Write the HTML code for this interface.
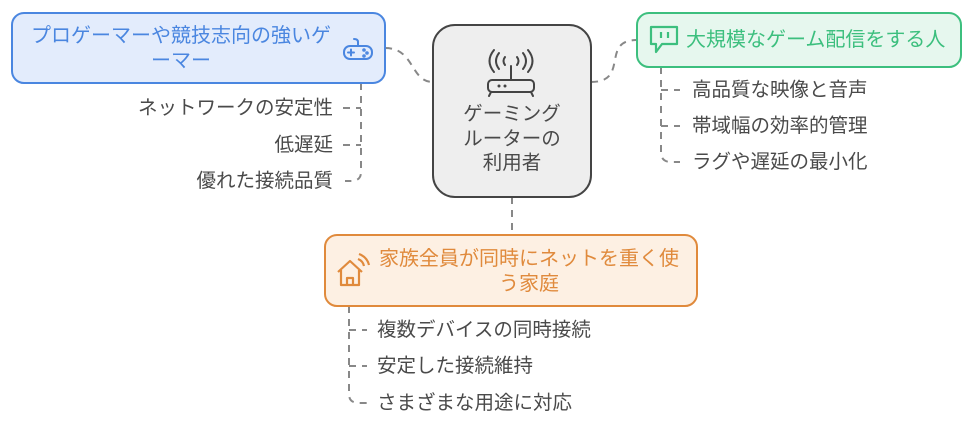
<!DOCTYPE html>
<html><head><meta charset="utf-8"><style>
body{margin:0;width:974px;height:427px;background:#fff;position:relative;overflow:hidden;font-family:"Liberation Sans","Noto Sans CJK JP",sans-serif;}
.t{position:absolute;font-size:19.5px;color:#4a4a4a;white-space:nowrap;line-height:22px}
</style></head><body>
<svg width="974" height="427" style="position:absolute;left:0;top:0">
<g fill="none" stroke="#888" stroke-width="2" stroke-dasharray="7,6">
<path d="M385 48 C415 48 410 82 433 82"/>
<path d="M591 82 C630 82 600 40 637 40"/>
<path d="M512 197 L512 235"/>
<path d="M361 83 L361 172 Q361 181 351 181 L345 181"/>
<path d="M343 108 L361 108 M343 145 L361 145"/>
<path d="M661 67 L661 152 Q661 162 671 162 L680 162"/>
<path d="M661 90 L680 90 M661 126 L680 126"/>
<path d="M349 306 L349 394 Q349 403 359 403 L367 403"/>
<path d="M349 330 L367 330 M349 366 L367 366"/>
</g>
<rect x="12" y="13" width="373" height="70" rx="12" fill="#e3ecfc" stroke="#4a86e0" stroke-width="2"/>
<rect x="433" y="25" width="158" height="172" rx="22" fill="#eeeeee" stroke="#444" stroke-width="2"/>
<rect x="637" y="13" width="324" height="54" rx="12" fill="#e6f7ee" stroke="#3cbf7e" stroke-width="2"/>
<rect x="325" y="235" width="372" height="71" rx="12" fill="#fdf0e3" stroke="#e08a3c" stroke-width="2"/>
<!-- gamepad -->
<g fill="none" stroke="#4a86e0" stroke-width="2" stroke-linecap="round">
<rect x="344" y="46" width="28" height="13" rx="6"/>
<path d="M358 46 V42 Q358 39 354 39"/>
<path d="M348 52.5 h6 M351 49.5 v6"/>
<circle cx="364" cy="50" r="0.8"/><circle cx="367" cy="53" r="0.8"/><circle cx="364" cy="56" r="0.8"/>
</g>
<!-- router -->
<g fill="none" stroke="#444" stroke-width="2" stroke-linecap="round">
<rect x="488" y="80" width="46" height="12" rx="4"/>
<path d="M511 80 V66"/>
<path d="M491 92 l-2 4 M531 92 l2 4"/>
<path d="M505 57 q-3 4 0 8 M517 57 q3 4 0 8 M499 53 q-6 8 0 16 M523 53 q6 8 0 16 M494 50 q-9 11 0 22 M528 50 q9 11 0 22"/>
</g>
<circle cx="499" cy="86" r="1.5" fill="#444"/><circle cx="505" cy="86" r="1.5" fill="#444"/>
<!-- twitch-like -->
<g fill="none" stroke="#3cbf7e" stroke-width="2.2" stroke-linejoin="round">
<path d="M651 27 H677 V44 H662 L656 52 V44 H651 Z"/>
<path d="M661 32 v6 M668 32 v6"/>
</g>
<!-- house -->
<g fill="none" stroke="#e08a3c" stroke-width="2.2" stroke-linejoin="round">
<path d="M338 272 L350 261 L362 272 M341 270 V285 H359 V270"/>
<path d="M347 285 V278 H353 V285"/>
<path d="M358 259 q5 2 6 7 M359 254 q8 3 10 11"/>
</g>
</svg>
<div class="t" style="left:21px;width:320px;top:24px;text-align:center;color:#4a86e0;font-size:20px;line-height:25px">プロゲーマーや競技志向の強いゲ<br>ーマー</div>
<div class="t" style="left:433px;width:158px;top:102px;text-align:center;font-size:19.5px;line-height:24.5px">ゲーミング<br>ルーターの<br>利用者</div>
<div class="t" style="left:686px;top:29px;color:#3cbf7e;font-size:20px">大規模なゲーム配信をする人</div>
<div class="t" style="left:369px;width:320px;top:247px;text-align:center;color:#e08a3c;font-size:20px;line-height:25px">家族全員が同時にネットを重く使<br>う家庭</div>
<div class="t" style="right:641px;top:97px">ネットワークの安定性</div>
<div class="t" style="right:641px;top:134px">低遅延</div>
<div class="t" style="right:641px;top:170px">優れた接続品質</div>
<div class="t" style="left:692px;top:79px">高品質な映像と音声</div>
<div class="t" style="left:692px;top:115px">帯域幅の効率的管理</div>
<div class="t" style="left:692px;top:151px">ラグや遅延の最小化</div>
<div class="t" style="left:377px;top:319px">複数デバイスの同時接続</div>
<div class="t" style="left:377px;top:355px">安定した接続維持</div>
<div class="t" style="left:377px;top:392px">さまざまな用途に対応</div>
</body></html>
